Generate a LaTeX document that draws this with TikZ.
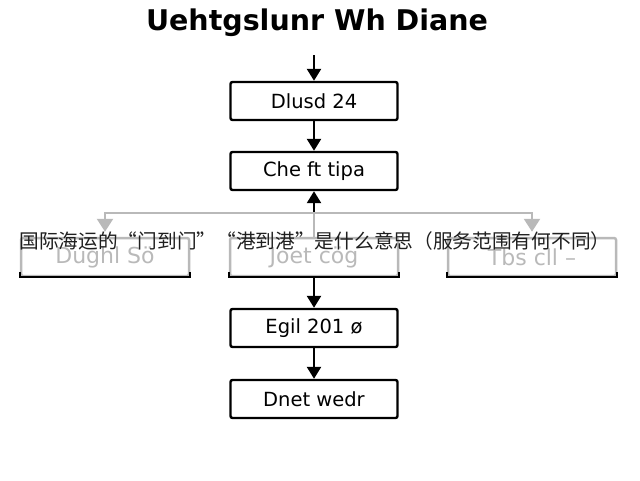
\documentclass[tikz,border=0pt]{standalone}
\usepackage{fontspec}
\setmainfont{DejaVu Sans}
\newfontfamily\cjk{Noto Sans CJK SC}
\usetikzlibrary{arrows.meta}

\begin{document}
\begin{tikzpicture}[x=1pt, y=-1pt,
    box/.style={draw, line width=2.4pt, rounded corners=2pt, minimum width=167pt, minimum height=38pt, font=\fontsize{19.5}{22}\selectfont},
    gbox/.style={draw=gray!55, line width=2.5pt, rounded corners=2pt, minimum width=168pt, minimum height=38pt, text=gray!55, font=\fontsize{22}{24}\selectfont},
    arr/.style={line width=2.4pt, -{Triangle[length=12pt, width=14pt]}},
    garr/.style={draw=gray!55, line width=2.5pt, -{Triangle[length=13pt, width=16pt]}}]
    \useasboundingbox (0,0) rectangle (640,480);
    \node[font=\bfseries\fontsize{28.5}{30}\selectfont] (title) at (317,23) {Uehtgslunr Wh Diane};
    \coordinate (start) at (314,55);
    \node[box] (b1) at (314,101) {Dlusd 24};
    \node[box] (b2) at (314,171) {Che ft tipa};
    \coordinate (split) at (314,213);
    \node[gbox] (g1) at (105,257) {Dughl Sö};
    \node[gbox] (g2) at (314,257) {Joet cög};
    \node[gbox] (g3) at (532,257) {Tbs cll –};
    \node[box] (b4) at (314,328) {Egil 201 ø};
    \node[box] (b5) at (314,399) {Dnet wedr};
    % main flow
    \draw[arr] (start) -- (b1);
    \draw[arr] (b1) -- (b2);
    \draw[arr] (split) -- (b2);
    \draw[arr] (g2) -- (b4);
    \draw[arr] (b4) -- (b5);
    % branch
    \draw[gray!55, line width=2.5pt] (g2) -- (split);
    \draw[garr] (split) -| ([yshift=5pt]g1.north);
    \draw[garr] (split) -| ([yshift=5pt]g3.north);
    \foreach \g in {g1,g2,g3}
        \draw[line width=2.4pt] ([yshift=5pt]\g.south west) -- (\g.south west) -- (\g.south east) -- ([yshift=5pt]\g.south east);
    \node[font=\cjk\fontsize{19.7}{22}\selectfont, text=black!88] (note) at (315,241) {国际海运的“门到门”“港到港”是什么意思（服务范围有何不同）};
\end{tikzpicture}
\end{document}
